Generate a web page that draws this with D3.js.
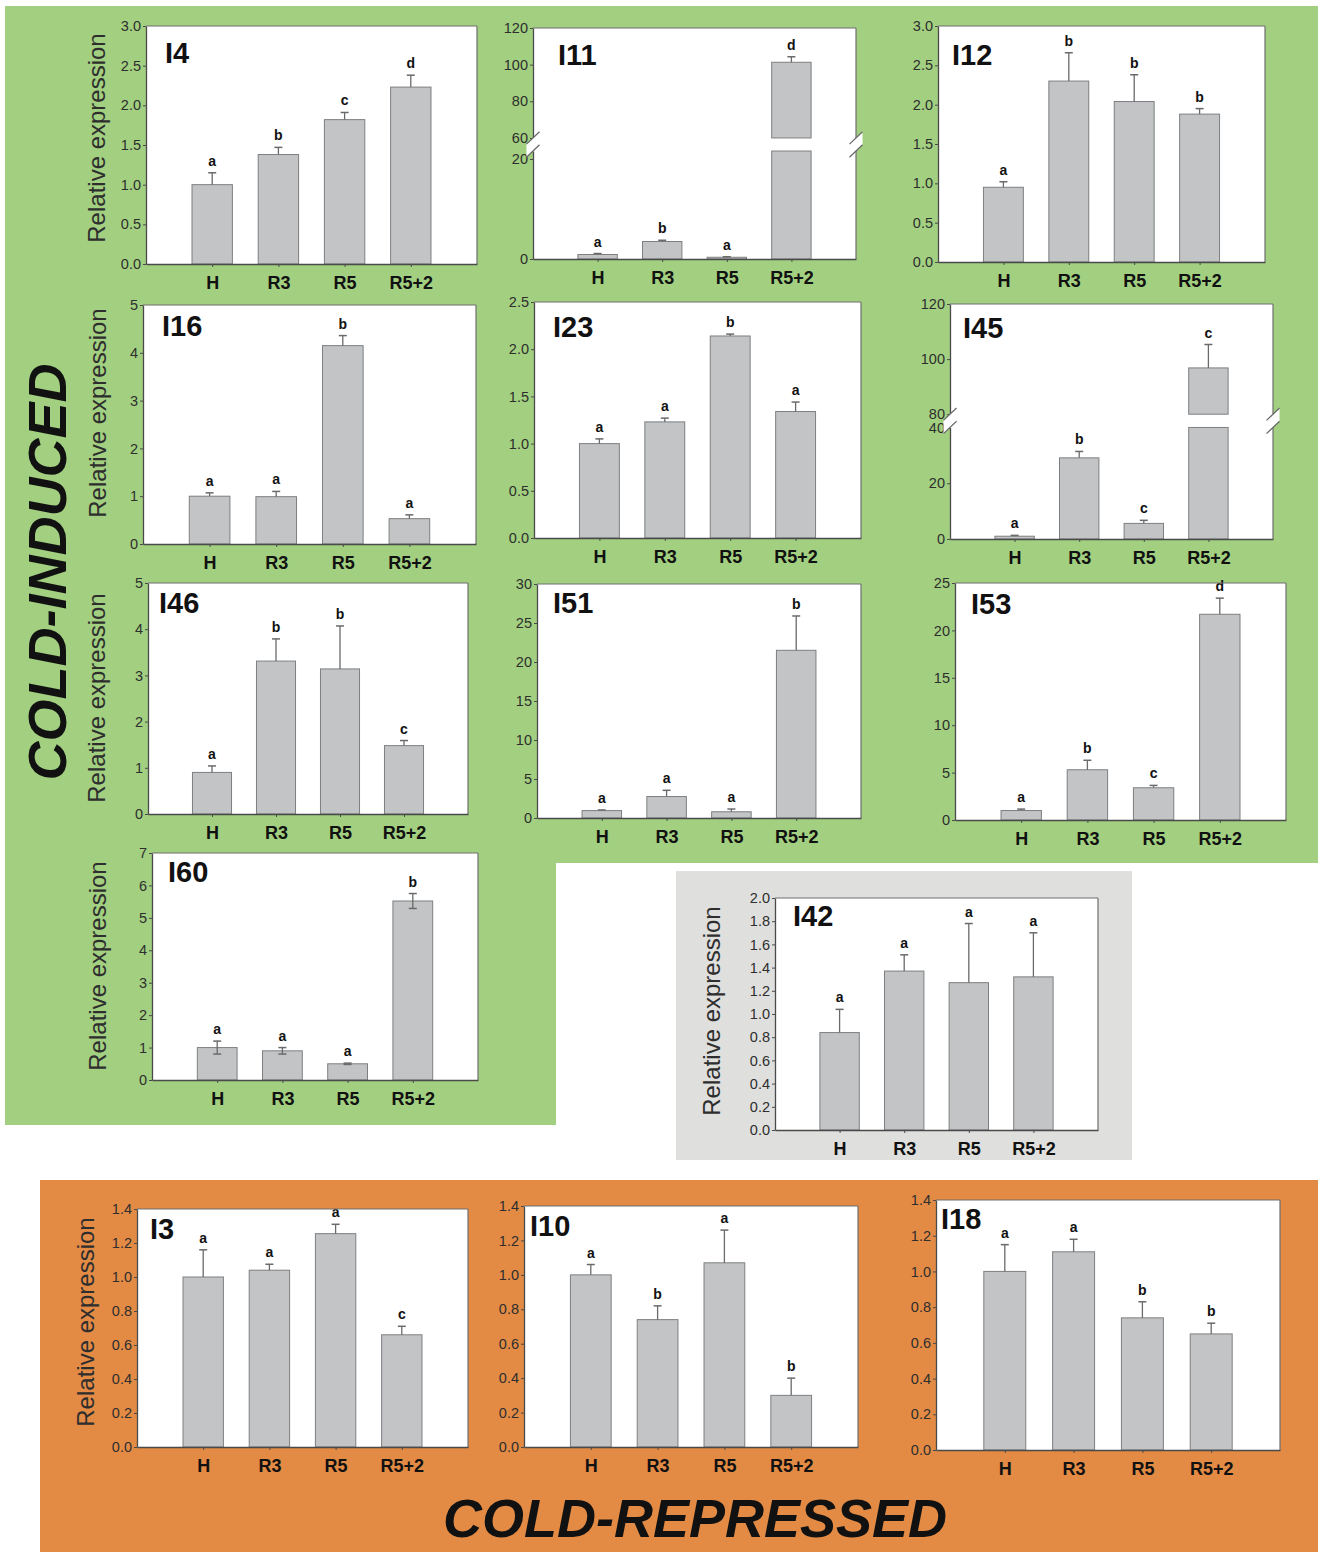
<!DOCTYPE html>
<html>
<head>
<meta charset="utf-8">
<script src="https://cdn.jsdelivr.net/npm/d3@7"></script>
<style>
  html, body { margin: 0; padding: 0; background: #fff; }
  svg { display: block; font-family: "Liberation Sans", Arial, sans-serif; }
</style>
</head>
<body>
<svg id="fig" width="1318" height="1552"></svg>
<script>
// ---- data ----------------------------------------------------------------
const groups = ["H", "R3", "R5", "R5+2"];
const geneNames = ["I4", "I11", "I12", "I16", "I23", "I45", "I46", "I51", "I53", "I60", "I42", "I3", "I10", "I18"];

// mean relative expression per gene (H, R3, R5, R5+2)
const meanValues = [
  [1.00, 1.38, 1.82, 2.23],   // I4
  [0.9, 3.5, 0.35, 101.3],    // I11
  [0.95, 2.30, 2.04, 1.88],   // I12
  [1.00, 0.99, 4.15, 0.53],   // I16
  [1.00, 1.23, 2.14, 1.34],   // I23
  [1.0, 29.1, 5.6, 96.8],     // I45
  [0.90, 3.31, 3.14, 1.48],   // I46
  [0.95, 2.75, 0.80, 21.5],   // I51
  [1.0, 5.3, 3.4, 21.7],      // I53
  [1.00, 0.90, 0.50, 5.52],   // I60
  [0.84, 1.37, 1.27, 1.32],   // I42
  [1.00, 1.04, 1.255, 0.66],  // I3
  [1.00, 0.74, 1.07, 0.30],   // I10
  [1.00, 1.11, 0.74, 0.65]    // I18
];

// standard errors
const errorValues = [
  [0.15, 0.09, 0.09, 0.15],
  [0.2, 0.25, 0.1, 3.0],
  [0.07, 0.36, 0.34, 0.07],
  [0.07, 0.11, 0.21, 0.08],
  [0.05, 0.04, 0.02, 0.10],
  [0.3, 2.3, 1.1, 8.5],
  [0.14, 0.48, 0.93, 0.11],
  [0.08, 0.80, 0.35, 4.4],
  [0.15, 1.0, 0.25, 1.7],
  [0.20, 0.10, 0.02, 0.23],
  [0.20, 0.14, 0.51, 0.38],
  [0.16, 0.035, 0.055, 0.05],
  [0.06, 0.08, 0.19, 0.10],
  [0.15, 0.07, 0.09, 0.06]
];

// significance groups
const letterGroups = [
  ["a", "b", "c", "d"],
  ["a", "b", "a", "d"],
  ["a", "b", "b", "b"],
  ["a", "a", "b", "a"],
  ["a", "a", "b", "a"],
  ["a", "b", "c", "c"],
  ["a", "b", "b", "c"],
  ["a", "a", "a", "b"],
  ["a", "b", "c", "d"],
  ["a", "a", "a", "b"],
  ["a", "a", "a", "a"],
  ["a", "a", "a", "c"],
  ["a", "b", "a", "b"],
  ["a", "a", "b", "b"]
];

// y-axis tick values
const yTickValues = [
  [0, 0.5, 1, 1.5, 2, 2.5, 3],
  [0, 20, 60, 80, 100, 120],
  [0, 0.5, 1, 1.5, 2, 2.5, 3],
  [0, 1, 2, 3, 4, 5],
  [0, 0.5, 1, 1.5, 2, 2.5],
  [0, 20, 40, 80, 100, 120],
  [0, 1, 2, 3, 4, 5],
  [0, 5, 10, 15, 20, 25, 30],
  [0, 5, 10, 15, 20, 25],
  [0, 1, 2, 3, 4, 5, 6, 7],
  [0, 0.2, 0.4, 0.6, 0.8, 1.0, 1.2, 1.4, 1.6, 1.8, 2.0],
  [0, 0.2, 0.4, 0.6, 0.8, 1.0, 1.2, 1.4],
  [0, 0.2, 0.4, 0.6, 0.8, 1.0, 1.2, 1.4],
  [0, 0.2, 0.4, 0.6, 0.8, 1.0, 1.2, 1.4]
];
const yTickDecimals = [1, 0, 1, 0, 1, 0, 0, 0, 0, 0, 1, 1, 1, 1];

const axisTitle = "Relative expression";
const sectionTitles = ["COLD-INDUCED", "COLD-REPRESSED"];

// ---- layout ----------------------------------------------------------------
const panelLayout = [
  { x0: 146, x1: 477, y0: 26, y1: 264, tx: 165, ty: 63 },
  { x0: 533, x1: 856, y0: 28, y1: 259, tx: 558, ty: 65,
    segments: [{ lo: 0, hi: 21.6, fLo: 0, fHi: 0.4675 }, { lo: 60, hi: 120, fLo: 0.524, fHi: 1 }] },
  { x0: 938, x1: 1265, y0: 26, y1: 262, tx: 952, ty: 65 },
  { x0: 143, x1: 476, y0: 305, y1: 544, tx: 162, ty: 336 },
  { x0: 534, x1: 861, y0: 302, y1: 538, tx: 553, ty: 337 },
  { x0: 950, x1: 1273, y0: 304, y1: 539, tx: 963, ty: 338,
    segments: [{ lo: 0, hi: 40, fLo: 0, fHi: 0.4746 }, { lo: 80, hi: 120, fLo: 0.531, fHi: 1 }] },
  { x0: 148, x1: 468, y0: 583, y1: 814, tx: 159, ty: 613 },
  { x0: 537, x1: 861, y0: 584, y1: 818, tx: 553, ty: 613 },
  { x0: 955, x1: 1286, y0: 583, y1: 820, tx: 971, ty: 614 },
  { x0: 152, x1: 478, y0: 853, y1: 1080, tx: 168, ty: 882, bothSides: true },
  { x0: 775, x1: 1098, y0: 898, y1: 1130, tx: 793, ty: 926 },
  { x0: 137, x1: 468, y0: 1209, y1: 1447, tx: 150, ty: 1239 },
  { x0: 524, x1: 858, y0: 1206, y1: 1447, tx: 530, ty: 1236 },
  { x0: 936, x1: 1280, y0: 1200, y1: 1450, tx: 941, ty: 1229 }
];
const axisTitleSpots = [
  { x: 105, y: 138 }, { x: 106, y: 413 }, { x: 105, y: 698 },
  { x: 106, y: 966 }, { x: 720, y: 1011 }, { x: 94, y: 1322 }
];

const GREEN = "#a2d080", ORANGE = "#e38b45", GREY_BOX = "#dfdfdd";
const BAR_FILL = "#c2c4c6", BAR_STROKE = "#7d7f80", ERR = "#6a6a6a";
const AXIS = "#4a4a4a", TEXT = "#2e2e2e";

const svg = d3.select("#fig");

// ---- section backgrounds ---------------------------------------------------
svg.append("path").attr("d", "M5,6H1318V863H556V1125H5Z").attr("fill", GREEN);
svg.append("rect").attr("x", 676).attr("y", 871).attr("width", 456).attr("height", 289).attr("fill", GREY_BOX);
svg.append("rect").attr("x", 40).attr("y", 1180).attr("width", 1278).attr("height", 372).attr("fill", ORANGE);

// ---- one bar panel ---------------------------------------------------------
function drawPanel(i) {
  const L = panelLayout[i];
  const vals = meanValues[i], errs = errorValues[i], lets = letterGroups[i];
  const ticks = yTickValues[i];
  const fmt = d3.format("." + yTickDecimals[i] + "f");
  const h = L.y1 - L.y0;
  const g = svg.append("g");

  const x = d3.scaleLinear().domain([0, groups.length + 1]).range([L.x0, L.x1]);
  const bw = (x(1) - x(0)) * 0.61;

  const segDefs = L.segments || [{ lo: 0, hi: d3.max(ticks), fLo: 0, fHi: 1 }];
  const segs = segDefs.map(s => ({
    ...s,
    y: d3.scaleLinear().domain([s.lo, s.hi]).range([L.y1 - s.fLo * h, L.y1 - s.fHi * h])
  }));
  const yOf = v => {
    const s = segs.find(s => v <= s.hi) || segs[segs.length - 1];
    return s.y(Math.max(v, s.lo));
  };

  // plot area
  g.append("rect").attr("x", L.x0).attr("y", L.y0)
    .attr("width", L.x1 - L.x0).attr("height", h).attr("fill", "#fff");

  // bars (split across axis breaks)
  groups.forEach((grp, k) => {
    const v = vals[k];
    segs.forEach(s => {
      if (v <= s.lo) return;
      const top = s.y(Math.min(v, s.hi));
      const bot = s.y(s.lo);
      g.append("rect")
        .attr("x", x(k + 1) - bw / 2).attr("y", top)
        .attr("width", bw).attr("height", bot - top)
        .attr("fill", BAR_FILL).attr("stroke", BAR_STROKE).attr("stroke-width", 1);
    });
  });

  // error bars and significance letters
  groups.forEach((grp, k) => {
    const v = vals[k], e = errs[k], cx = x(k + 1);
    const yTop = yOf(v + e);
    const yLow = L.bothSides ? yOf(v - e) : yOf(v);
    g.append("line").attr("x1", cx).attr("x2", cx).attr("y1", yLow).attr("y2", yTop)
      .attr("stroke", ERR).attr("stroke-width", 1.3);
    g.append("line").attr("x1", cx - 4).attr("x2", cx + 4).attr("y1", yTop).attr("y2", yTop)
      .attr("stroke", ERR).attr("stroke-width", 1.5);
    if (L.bothSides) {
      g.append("line").attr("x1", cx - 4).attr("x2", cx + 4).attr("y1", yLow).attr("y2", yLow)
        .attr("stroke", ERR).attr("stroke-width", 1.5);
    }
    g.append("text").attr("x", cx).attr("y", yTop - 7)
      .attr("text-anchor", "middle").attr("font-size", 14).attr("font-weight", "bold")
      .attr("fill", "#111").text(lets[k]);
  });

  // top and right frame lines
  g.append("line").attr("x1", L.x0).attr("x2", L.x1).attr("y1", L.y0).attr("y2", L.y0)
    .attr("stroke", "#6e6e6e").attr("stroke-width", 1.2);
  segs.forEach(s => {
    g.append("line").attr("x1", L.x1).attr("x2", L.x1)
      .attr("y1", s.y.range()[0]).attr("y2", s.y.range()[1])
      .attr("stroke", "#6e6e6e").attr("stroke-width", 1.2);
  });

  // left axis, one piece per segment
  segs.forEach(s => {
    const ax = g.append("g").attr("transform", `translate(${L.x0},0)`)
      .call(d3.axisLeft(s.y)
        .tickValues(ticks.filter(t => t >= s.lo && t <= s.hi))
        .tickSize(3).tickSizeOuter(0).tickPadding(2).tickFormat(fmt));
    ax.select(".domain").attr("stroke", AXIS).attr("stroke-width", 1.3);
    ax.selectAll(".tick line").attr("stroke", AXIS);
    ax.selectAll(".tick text").attr("font-size", 14.5).attr("fill", TEXT)
      .attr("font-family", "Liberation Sans, Arial, sans-serif");
  });

  // bottom axis
  const bx = g.append("g").attr("transform", `translate(0,${L.y1})`)
    .call(d3.axisBottom(x).tickValues(d3.range(1, groups.length + 1))
      .tickSize(3).tickSizeOuter(0).tickPadding(9)
      .tickFormat(d => groups[d - 1]));
  bx.select(".domain").attr("stroke", AXIS).attr("stroke-width", 1.3);
  bx.selectAll(".tick line").attr("stroke", AXIS);
  bx.selectAll(".tick text").attr("font-size", 18).attr("font-weight", "bold")
    .attr("fill", "#111").attr("font-family", "Liberation Sans, Arial, sans-serif");

  // axis-break marks on both vertical edges
  if (segs.length > 1) {
    const yA = segs[0].y.range()[1];   // top of lower segment
    const yB = segs[1].y.range()[0];   // bottom of upper segment
    [L.x0, L.x1].forEach(ax => {
      g.append("path")
        .attr("d", `M${ax - 6.5},${yB + 6.2}L${ax + 6.5},${yB - 6.2}L${ax + 6.5},${yA - 6.2}L${ax - 6.5},${yA + 6.2}Z`)
        .attr("fill", "#fff");
      [yA, yB].forEach(yy => {
        g.append("line").attr("x1", ax - 6.5).attr("y1", yy + 6.2)
          .attr("x2", ax + 6.5).attr("y2", yy - 6.2)
          .attr("stroke", "#666").attr("stroke-width", 1.2);
      });
    });
  }

  // gene label
  g.append("text").attr("x", L.tx).attr("y", L.ty)
    .attr("font-size", 29).attr("font-weight", "bold").attr("fill", "#111")
    .text(geneNames[i]);
}

geneNames.forEach((_, i) => drawPanel(i));

// ---- y-axis titles ---------------------------------------------------------
axisTitleSpots.forEach(p => {
  svg.append("text")
    .attr("transform", `translate(${p.x},${p.y}) rotate(-90)`)
    .attr("text-anchor", "middle").attr("font-size", 24).attr("fill", TEXT)
    .text(axisTitle);
});

// ---- section titles --------------------------------------------------------
svg.append("text")
  .attr("transform", "translate(66,572) rotate(-90)")
  .attr("text-anchor", "middle").attr("font-size", 54)
  .attr("font-weight", "bold").attr("font-style", "italic").attr("fill", "#111")
  .text(sectionTitles[0]);
svg.append("text")
  .attr("x", 695).attr("y", 1537)
  .attr("text-anchor", "middle").attr("font-size", 54)
  .attr("font-weight", "bold").attr("font-style", "italic").attr("fill", "#111")
  .text(sectionTitles[1]);
</script>
</body>
</html>
